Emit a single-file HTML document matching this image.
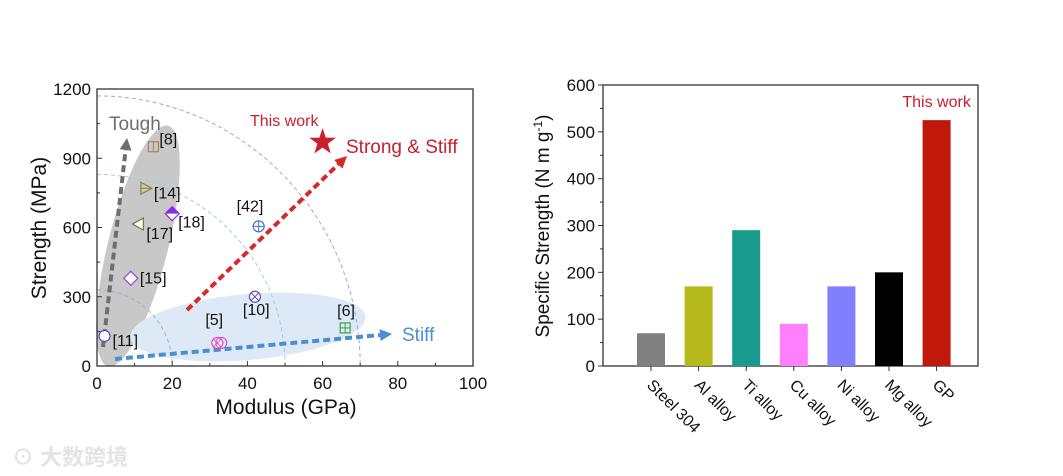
<!DOCTYPE html>
<html><head><meta charset="utf-8"><style>
html,body{margin:0;padding:0;background:#fff;}
svg{display:block;font-family:"Liberation Sans","Noto Sans CJK SC",sans-serif;}
</style></head><body>
<svg id="s" width="1063" height="476" viewBox="0 0 1063 476" xmlns="http://www.w3.org/2000/svg">
<text x="12" y="465" font-size="22" fill="#e4e4e4" font-weight="bold">⊙ 大数跨境</text>
<g id="left"></g>
<g id="right"></g>
</svg>
<script>
// ---- Left chart data ----
const ptLabels = ["[8]","[14]","[18]","[17]","[15]","[11]","[5]","[10]","[42]","[6]"];
const ptModulus = [15,13,20,11,9,2,32,42,43,66];
const ptStrength = [950,770,660,615,380,130,100,300,605,165];
const ptColors = ["#b08060","#8a8a30","#8a2be2","#5a8a30","#a040d0","#6040c0","#e040c0","#6050b0","#4070d0","#40a040"];
const workModulus = [60];
const workStrength = [970];
const xTicks = [0,20,40,60,80,100];
const yTicks = [0,300,600,900,1200];
// ---- Right chart data ----
const categories = ["Steel 304","Al alloy","Ti alloy","Cu alloy","Ni alloy","Mg alloy","GP"];
const specStrength = [70,170,290,90,170,200,525];
const barColors = ["#808080","#b5b91c","#189b8c","#ff80ff","#8080ff","#000000","#c0190b"];
const rTicks = [0,100,200,300,400,500,600];

const NS="http://www.w3.org/2000/svg";
function el(p,t,a,txt){const e=document.createElementNS(NS,t);for(const k in a)e.setAttribute(k,a[k]);if(txt!==undefined)e.textContent=txt;p.appendChild(e);return e;}

const L=document.getElementById('left');
const x0=97,x1=473,yb=366,yt=89;
const sx=v=>x0+(v-0)/100*(x1-x0);
const sy=v=>yb-(v/1200)*(yb-yt);
let e1=el(L,'ellipse',{cx:138,cy:246,rx:30,ry:124,fill:'#c8c8c8',transform:'rotate(14 138 246)'});


let e2=el(L,'ellipse',{cx:248,cy:327,rx:118,ry:33,fill:'#dde9f7',transform:'rotate(-5 248 327)'});


[[70,1170,'#a8a0d8'],[50,830,'#a8c8e0'],[20,330,'#b0a8c8']].forEach(([a,b,c],i)=>{
  const rx=sx(a)-x0, ry=yb-sy(b);
  const p=el(L,'path',{d:`M${x0} ${yb-ry} A${rx} ${ry} 0 0 1 ${x0+rx} ${yb}`,fill:'none',stroke:c,'stroke-width':1,'stroke-dasharray':'4 3'});
  
  
});
let fr=el(L,'rect',{x:x0,y:yt,width:x1-x0,height:yb-yt,fill:'none',stroke:'#333','stroke-width':1.3});


xTicks.forEach(v=>{
  el(L,'line',{x1:sx(v),x2:sx(v),y1:yb,y2:yb-5,stroke:'#333'});
  if(v<100)el(L,'line',{x1:sx(v+10),x2:sx(v+10),y1:yb,y2:yb-3,stroke:'#333'});
  const t=el(L,'text',{x:sx(v),y:yb+23,'font-size':17,'text-anchor':'middle',fill:'#111'},String(v));
  
  
});
yTicks.forEach(v=>{
  el(L,'line',{x1:x0,x2:x0+5,y1:sy(v),y2:sy(v),stroke:'#333'});
  if(v<1200)el(L,'line',{x1:x0,x2:x0+3,y1:sy(v+150),y2:sy(v+150),stroke:'#333'});
  const t=el(L,'text',{x:x0-6,y:sy(v)+6,'font-size':17,'text-anchor':'end',fill:'#111'},String(v));
  
  
});
let xt=el(L,'text',{x:286,y:414,'font-size':21,'text-anchor':'middle',fill:'#111'},'Modulus (GPa)');


let yt2=el(L,'text',{x:0,y:0,'font-size':21,'text-anchor':'middle',fill:'#111',transform:'translate(46 228) rotate(-90)'},'Strength (MPa)');


function arrow(xa,ya,xb,yb2,c,nm,w){
  const g=el(L,'g',{});
  
  
  const ang=Math.atan2(yb2-ya,xb-xa);const hl=12;
  const ex=xb-hl*Math.cos(ang),ey=yb2-hl*Math.sin(ang);
  el(g,'line',{x1:xa,y1:ya,x2:ex,y2:ey,stroke:c,'stroke-width':w,'stroke-dasharray':'7 4'});
  const px=Math.sin(ang)*6,py=-Math.cos(ang)*6;
  el(g,'polygon',{points:`${xb},${yb2} ${ex+px},${ey+py} ${ex-px},${ey-py}`,fill:c});
}
arrow(103,347,127,138,'#6e6e6e','tough-arrow',4);
arrow(187,310,347,156,'#d42a2a','strong-stiff-arrow',4);
arrow(115,359,392,334,'#4a90d0','stiff-arrow',4);
[['Tough',109,130,'#6e6e6e',19,'tough-label'],['This work',250,126,'#c8202a',16,'this-work-label'],['Strong & Stiff',346,153,'#c8202a',19,'strong-stiff-label'],['Stiff',402,341,'#4a90d0',19,'stiff-label']].forEach(a=>{
  const t=el(L,'text',{x:a[1],y:a[2],fill:a[3],'font-size':a[4]},a[0]);
  
  
});
const lblOff=[[6,-2],[8,10],[6,14],[8,15],[9,5],[8,10],[-12,-18],[-12,18],[-22,-15],[-8,-12]];
ptLabels.forEach((lb,i)=>{
  const cx=sx(ptModulus[i]),cy=sy(ptStrength[i]);
  const g=el(L,'g',{});
  
  
  const c=ptColors[i];
  if(i===4||i===2){el(g,'polygon',{points:`${cx},${cy-7} ${cx+7},${cy} ${cx},${cy+7} ${cx-7},${cy}`,fill:'#fff',stroke:c,'stroke-width':1.2});if(i===2)el(g,'polygon',{points:`${cx-7},${cy} ${cx},${cy-7} ${cx+7},${cy}`,fill:c});}
  else if(i===3)el(g,'polygon',{points:`${cx-6},${cy} ${cx+5},${cy-6} ${cx+5},${cy+6}`,fill:'#fff',stroke:c,'stroke-width':1.2});
  else if(i===1){el(g,'polygon',{points:`${cx+6},${cy} ${cx-5},${cy-6} ${cx-5},${cy+6}`,fill:'none',stroke:c,'stroke-width':1.2});el(g,'line',{x1:cx-6,x2:cx+6,y1:cy,y2:cy,stroke:c});}
  else if(i===0||i===9){el(g,'rect',{x:cx-5,y:cy-5,width:10,height:10,fill:'none',stroke:c,'stroke-width':1.2});el(g,'line',{x1:cx,x2:cx,y1:cy-5,y2:cy+5,stroke:c});if(i===9)el(g,'line',{x1:cx-5,x2:cx+5,y1:cy,y2:cy,stroke:c});}
  else{el(g,'circle',{cx:cx,cy:cy,r:5.5,fill:'#fff',stroke:c,'stroke-width':1.2});
    if(i===7||i===6){el(g,'line',{x1:cx-4,y1:cy-4,x2:cx+4,y2:cy+4,stroke:c});el(g,'line',{x1:cx-4,y1:cy+4,x2:cx+4,y2:cy-4,stroke:c});}
    if(i===6){el(g,'circle',{cx:cx+4,cy:cy,r:5.5,fill:'none',stroke:c});}
    if(i===8){el(g,'line',{x1:cx-5.5,x2:cx+5.5,y1:cy,y2:cy,stroke:c});el(g,'line',{x1:cx,x2:cx,y1:cy-5.5,y2:cy+5.5,stroke:c});}}
  el(g,'text',{x:cx+lblOff[i][0],y:cy+lblOff[i][1],'font-size':16,fill:'#111'},lb);
});
workModulus.forEach((m,i)=>{
  const cx=sx(m),cy=sy(workStrength[i]);let pts=[];
  for(let k=0;k<10;k++){const r=k%2?5.5:14;const a=-Math.PI/2+k*Math.PI/5;pts.push((cx+r*Math.cos(a)).toFixed(1)+','+(cy+r*Math.sin(a)).toFixed(1));}
  const s=el(L,'polygon',{points:pts.join(' '),fill:'#c8202a'});
  
  
});

const R=document.getElementById('right');
const rx0=603,rx1=978,rb=366,rt=85;
const ry=v=>rb-v/600*(rb-rt);
const bx=i=>651+i*47.6;
let rf=el(R,'rect',{x:rx0,y:rt,width:rx1-rx0,height:rb-rt,fill:'none',stroke:'#333','stroke-width':1.3});


rTicks.forEach(v=>{
  el(R,'line',{x1:rx0,x2:rx0-5,y1:ry(v),y2:ry(v),stroke:'#333'});
  if(v<600)el(R,'line',{x1:rx0,x2:rx0-3,y1:ry(v+50),y2:ry(v+50),stroke:'#333'});
  const t=el(R,'text',{x:rx0-8,y:ry(v)+6,'font-size':17,'text-anchor':'end',fill:'#111'},String(v));
  
  
});
categories.forEach((c,i)=>{
  const b=el(R,'rect',{x:bx(i)-14,y:ry(specStrength[i]),width:28,height:rb-ry(specStrength[i]),fill:barColors[i]});
  
  
  el(R,'line',{x1:bx(i),x2:bx(i),y1:rb,y2:rb+5,stroke:'#333'});
  const t=el(R,'text',{x:0,y:0,'font-size':16,fill:'#111',transform:`translate(${bx(i)-5} ${rb+20}) rotate(45)`},c);
  
  
});
let tw=el(R,'text',{x:bx(6),y:ry(specStrength[6])-13,'font-size':16,'text-anchor':'middle',fill:'#c8202a'},'This work');


let ryt=el(R,'text',{x:0,y:0,'font-size':19,'text-anchor':'middle',fill:'#111',transform:'translate(549 226) rotate(-90)'});
ryt.innerHTML='Specific Strength (N m g<tspan font-size="12" dy="-7">-1</tspan><tspan dy="7">)</tspan>';


</script>
</body></html>
